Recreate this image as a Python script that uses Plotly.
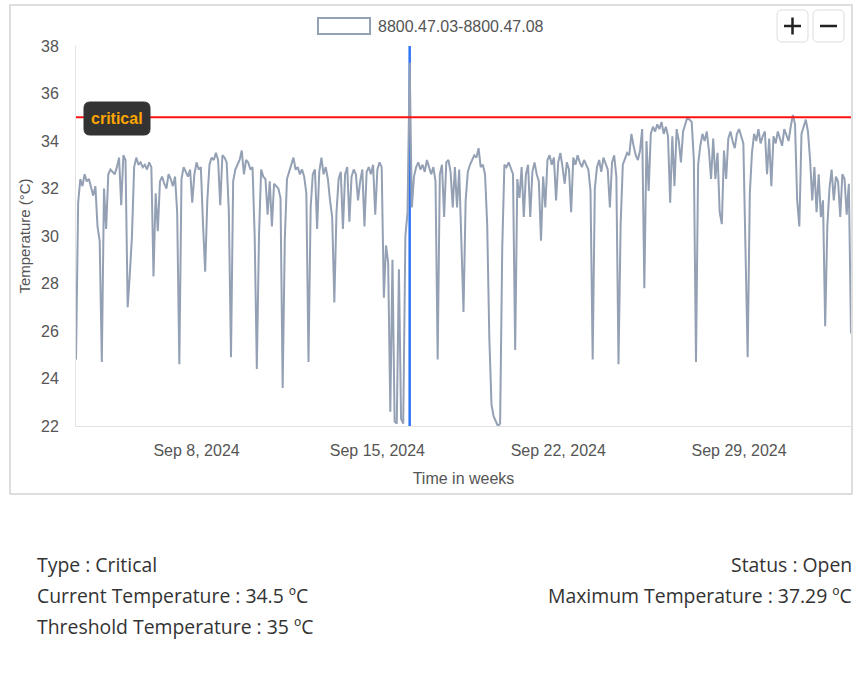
import numpy as np
import pandas as pd
import plotly.graph_objects as go

# ---------------- data (2-hourly readings, starting Sep 3 2024 08:00) ----------------
series_name = "8800.47.03-8800.47.08"
start_time = "2024-09-03 08:00"
step = "2h"

week1 = [
    24.8, 31.4, 32.4, 32.1, 32.6, 32.3, 32.4, 32.0, 31.7, 32.1, 30.4, 29.8,
    24.7, 32.0, 30.3, 32.6, 32.8, 32.7, 32.6, 32.9, 33.3, 31.3, 33.4, 33.2,
    27.0, 28.4, 30.0, 32.9, 33.3, 33.0, 33.1, 32.9, 33.0, 32.8, 33.1, 32.9,
    28.3, 31.8, 30.2, 32.3, 32.5, 32.2, 32.0, 32.6, 32.4, 32.1, 32.5, 31.0,
    24.6, 32.4, 32.9, 32.7, 32.5, 32.8, 31.4, 32.6, 33.1, 32.8, 32.9, 30.5,
    28.5, 31.5, 33.0, 33.3, 33.2, 33.5, 33.2, 31.3, 33.4, 33.3, 33.1, 31.0,
    24.9, 32.3, 32.8, 33.0, 33.2, 33.6, 32.6, 33.2, 33.1, 32.8, 32.9, 30.0,
]
week2 = [
    24.4, 30.0, 32.8, 32.5, 32.4, 30.9, 32.3, 30.4, 32.2, 32.1, 32.0, 31.6,
    23.6, 29.9, 32.4, 32.7, 33.0, 33.3, 32.8, 32.9, 32.6, 32.8, 32.5, 31.8,
    24.7, 31.2, 32.6, 32.8, 30.3, 32.7, 33.3, 32.6, 32.9, 32.4, 31.5, 30.8,
    27.2, 31.0, 32.4, 32.7, 30.3, 32.6, 32.9, 30.6, 32.5, 32.8, 32.6, 31.5,
    32.3, 32.8, 30.4, 32.7, 32.9, 32.6, 33.0, 30.9, 32.8, 33.1, 32.9, 27.4,
    29.6, 28.9, 22.6, 29.0, 22.2, 22.1, 28.6, 22.3, 22.1, 30.0, 31.0, 37.29,
    31.2, 32.5, 32.9, 33.1, 32.8, 33.0, 32.7, 33.2, 32.9, 32.6, 32.9, 32.3,
]
week3 = [
    24.8, 32.6, 33.0, 30.8, 33.1, 33.2, 32.7, 31.2, 32.9, 31.2, 32.8, 30.0,
    26.8, 31.5, 32.7, 33.0, 33.2, 33.4, 33.3, 33.7, 32.9, 33.0, 32.6, 30.5,
    25.7, 22.9, 22.4, 22.2, 22.0, 22.1, 29.5, 33.0, 32.9, 33.1, 32.8, 32.6,
    25.2, 32.4, 31.6, 32.9, 30.8, 32.6, 33.0, 30.8, 32.7, 33.1, 32.6, 32.3,
    29.8, 32.5, 31.2, 33.2, 33.4, 33.0, 33.3, 31.5, 33.1, 33.5, 32.9, 32.2,
    33.1, 32.8, 31.0, 33.3, 33.0, 33.4, 33.1, 32.9, 33.2, 33.0, 32.8, 31.9,
    24.8, 32.0, 32.9, 33.2, 32.7, 33.3, 33.0, 32.8, 31.2, 33.1, 33.4, 32.5,
]
week4 = [
    24.6, 30.5, 33.0, 33.3, 33.5, 33.4, 34.3, 33.8, 33.4, 33.2, 33.6, 34.5,
    27.8, 34.0, 31.9, 34.3, 34.6, 34.4, 34.7, 34.5, 34.8, 34.3, 34.6, 34.2,
    31.4, 34.2, 32.1, 34.5, 34.0, 33.1, 34.4, 34.7, 35.0, 34.9, 34.8, 33.2,
    24.7, 33.0, 33.8, 34.3, 34.0, 34.4, 33.6, 32.4, 34.1, 32.4, 33.5, 31.0,
    30.5, 33.6, 32.4, 34.1, 34.4, 34.0, 33.7, 34.3, 34.5, 34.2, 33.9, 29.4,
    24.9, 31.8, 33.5, 34.3, 34.0, 34.5, 33.9, 34.2, 34.4, 32.6, 34.1, 32.1,
    34.2, 33.9, 34.4, 34.1, 33.8, 34.5, 34.2, 34.0, 34.6, 35.1, 34.7, 31.5,
]
week5 = [
    30.4, 34.3, 34.6, 34.9, 34.4, 33.2, 31.5, 32.9, 31.0, 32.6, 30.8, 31.5,
    26.2, 30.4, 32.0, 32.8, 31.5, 32.5, 32.3, 30.8, 32.6, 32.4, 30.9, 32.2,
    25.9,
]

threshold = 35
current_temp = 34.5
alarm_type = "Critical"
status = "Open"
y_ticks = [22, 24, 26, 28, 30, 32, 34, 36, 38]
x_tick_start = "2024-09-08"

temps = week1 + week2 + week3 + week4 + week5
times = pd.date_range(start_time, periods=len(temps), freq=step)
max_idx = int(np.argmax(temps))
max_temp = temps[max_idx]

# ---------------- layout geometry (pixels) ----------------
W_FIG, H_FIG = 864, 675
L, R, T, B = 76, 13, 46, 249
PW, PH = W_FIG - L - R, H_FIG - T - B


def px(x):
    return (x - L) / PW


def py(y):
    return (T + PH - y) / PH


def rrect(x0, y0, x1, y1, r):
    return (
        f"M {px(x0 + r)},{py(y0)} L {px(x1 - r)},{py(y0)} "
        f"Q {px(x1)},{py(y0)} {px(x1)},{py(y0 + r)} "
        f"L {px(x1)},{py(y1 - r)} Q {px(x1)},{py(y1)} {px(x1 - r)},{py(y1)} "
        f"L {px(x0 + r)},{py(y1)} Q {px(x0)},{py(y1)} {px(x0)},{py(y1 - r)} "
        f"L {px(x0)},{py(y0 + r)} Q {px(x0)},{py(y0)} {px(x0 + r)},{py(y0)} Z"
    )


FONT = "Liberation Sans, Arial, sans-serif"
INFO_FONT = "Open Sans, sans-serif"
INFO_SIZE = 19.4
TXT = "#555555"
LINE_COL = "#94a0b4"

fig = go.Figure()
fig.add_trace(
    go.Scatter(
        x=times,
        y=temps,
        mode="lines",
        name=series_name,
        line=dict(color=LINE_COL, width=2),
        showlegend=False,
    )
)

shapes = []
# outer card border
shapes.append(dict(type="rect", xref="paper", yref="paper",
                   x0=px(10), x1=px(852), y0=py(5), y1=py(494),
                   line=dict(color="#d3d3d3", width=1.5), layer="below"))
# marker for max reading (behind the data)
shapes.append(dict(type="line", xref="x", yref="paper",
                   x0=times[max_idx], x1=times[max_idx], y0=0, y1=1,
                   line=dict(color="#2f74f5", width=2.5), layer="below"))
# threshold line
shapes.append(dict(type="line", xref="paper", yref="y",
                   x0=0, x1=1, y0=threshold, y1=threshold,
                   line=dict(color="#ff1010", width=2), layer="above"))
# critical label box
shapes.append(dict(type="path", xref="paper", yref="paper",
                   path=rrect(84, 102, 150, 135, 6),
                   fillcolor="#333333", line=dict(color="#333333", width=1)))
# legend symbol
shapes.append(dict(type="rect", xref="paper", yref="paper",
                   x0=px(318), x1=px(370), y0=py(18), y1=py(34),
                   line=dict(color=LINE_COL, width=2), fillcolor="white"))
# zoom buttons
for bx0, bx1 in [(777, 808), (813, 844)]:
    shapes.append(dict(type="path", xref="paper", yref="paper",
                       path=rrect(bx0, 10, bx1, 42, 5),
                       fillcolor="white", line=dict(color="#dddddd", width=1)))
shapes.append(dict(type="line", xref="paper", yref="paper",
                   x0=px(784), x1=px(801), y0=py(26), y1=py(26),
                   line=dict(color="#222222", width=2.5)))
shapes.append(dict(type="line", xref="paper", yref="paper",
                   x0=px(792.5), x1=px(792.5), y0=py(17.5), y1=py(34.5),
                   line=dict(color="#222222", width=2.5)))
shapes.append(dict(type="line", xref="paper", yref="paper",
                   x0=px(820), x1=px(837), y0=py(26), y1=py(26),
                   line=dict(color="#222222", width=2.5)))

annotations = []
annotations.append(dict(xref="paper", yref="paper", x=px(117), y=py(118.5),
                        text="<b>critical</b>", showarrow=False,
                        font=dict(family=FONT, size=16, color="#ffa500"),
                        xanchor="center", yanchor="middle"))
annotations.append(dict(xref="paper", yref="paper", x=px(376), y=py(26),
                        text=series_name, showarrow=False,
                        font=dict(family=FONT, size=16, color=TXT),
                        xanchor="left", yanchor="middle"))

info_left = [
    f"Type : {alarm_type}",
    f"Current Temperature : {current_temp} ºC",
    f"Threshold Temperature : {threshold} ºC",
]
info_right = [
    f"Status : {status}",
    f"Maximum Temperature : {max_temp:.2f} ºC",
]
for i, t in enumerate(info_left):
    annotations.append(dict(xref="paper", yref="paper", x=px(35), y=py(564.5 + 31 * i),
                            text=t, showarrow=False,
                            font=dict(family=INFO_FONT, size=INFO_SIZE, color="#333333"),
                            xanchor="left", yanchor="middle"))
for i, t in enumerate(info_right):
    annotations.append(dict(xref="paper", yref="paper", x=px(854), y=py(564.5 + 31 * i),
                            text=t, showarrow=False,
                            font=dict(family=INFO_FONT, size=INFO_SIZE, color="#333333"),
                            xanchor="right", yanchor="middle"))

fig.update_layout(
    width=W_FIG,
    height=H_FIG,
    margin=dict(l=L, r=R, t=T, b=B, pad=0),
    paper_bgcolor="white",
    plot_bgcolor="white",
    shapes=shapes,
    annotations=annotations,
    showlegend=False,
    font=dict(family=FONT, color=TXT),
)
fig.update_xaxes(
    range=[times[0], times[-1]],
    type="date",
    tick0=x_tick_start,
    dtick=7 * 24 * 3600 * 1000,
    tickformat="%b %-d, %Y",
    showgrid=False,
    zeroline=False,
    showline=True,
    linecolor="#e3e3e3",
    linewidth=1,
    ticks="",
    ticklabelstandoff=10,
    tickfont=dict(family=FONT, size=16, color=TXT),
    title=dict(text="Time in weeks", font=dict(family=FONT, size=16, color=TXT), standoff=14),
)
fig.update_yaxes(
    range=[22, 38],
    tickvals=y_ticks,
    showgrid=False,
    zeroline=False,
    showline=True,
    linecolor="#e3e3e3",
    linewidth=1,
    ticks="",
    ticklabelstandoff=13,
    tickfont=dict(family=FONT, size=16, color=TXT),
    title=dict(text="Temperature (°C)", font=dict(family=FONT, size=15, color=TXT), standoff=6),
)

fig.write_html("out.html")
